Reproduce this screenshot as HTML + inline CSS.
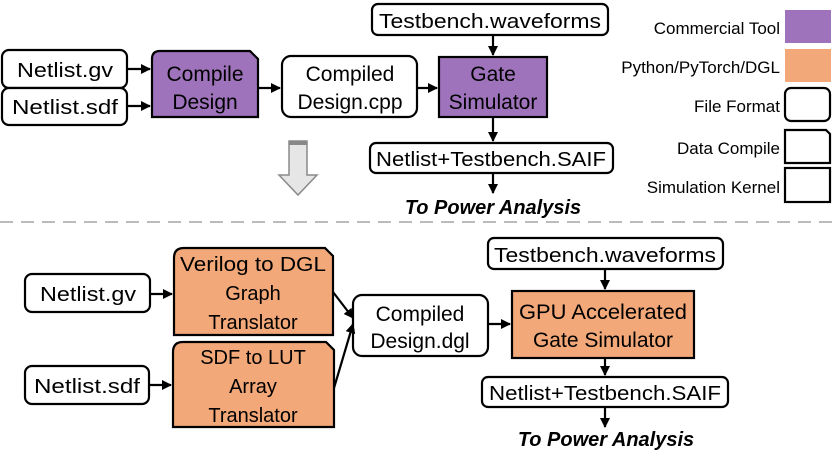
<!DOCTYPE html>
<html><head><style>
html,body{margin:0;padding:0;background:#fff;}
svg text{font-family:"Liberation Sans",sans-serif;fill:#000;}
</style></head><body>
<svg width="832" height="450" viewBox="0 0 832 450" xmlns="http://www.w3.org/2000/svg">
<defs>
<marker id="ah" markerWidth="10" markerHeight="10" refX="9" refY="5" orient="auto" markerUnits="userSpaceOnUse">
<path d="M0,0 L10,5 L0,10 Z" fill="#000"/>
</marker>
</defs>
<g stroke="#000" stroke-width="2.2" fill="none">
<rect x="2" y="50" width="125" height="38" rx="7" fill="#fff"/>
<rect x="2" y="88" width="125" height="37" rx="7" fill="#fff"/>
<path d="M160,51 L250,51 L258,59 L258,117 L152,117 L152,59 Q152,51 160,51 Z" fill="#9e73bb"/>
<rect x="282" y="56" width="135" height="61" rx="9" fill="#fff"/>
<rect x="439" y="57" width="108" height="60" fill="#9e73bb"/>
<rect x="372" y="4" width="236" height="31" rx="6" fill="#fff"/>
<rect x="370" y="143" width="243" height="30" rx="6" fill="#fff"/>
<line x1="127" y1="69" x2="150" y2="69" marker-end="url(#ah)"/>
<line x1="127" y1="106" x2="150" y2="106" marker-end="url(#ah)"/>
<line x1="258" y1="88" x2="280" y2="88" marker-end="url(#ah)"/>
<line x1="417" y1="88" x2="437" y2="88" marker-end="url(#ah)"/>
<line x1="493" y1="35" x2="493" y2="55" marker-end="url(#ah)"/>
<line x1="493" y1="117" x2="493" y2="141" marker-end="url(#ah)"/>
<line x1="493" y1="173" x2="493" y2="193" marker-end="url(#ah)"/>
<rect x="785" y="10" width="46" height="33" fill="#9e73bb" stroke="none"/>
<rect x="785" y="49" width="46" height="33" fill="#f2a878" stroke="none"/>
<rect x="785" y="88" width="45" height="33" rx="6" fill="#fff"/>
<path d="M785,130 L826,130 L830,134 L830,163 L785,163 Z" fill="#fff"/>
<rect x="785" y="168" width="45" height="34" fill="#fff"/>
<rect x="25" y="274" width="125" height="38" rx="7" fill="#fff"/>
<rect x="25" y="366" width="124" height="38" rx="7" fill="#fff"/>
<path d="M184,248 L325,248 L333,256 L333,335 L174,335 L174,258 Q174,248 184,248 Z" fill="#f2a878"/>
<path d="M183,342 L326,342 L334,350 L334,427 L173,427 L173,352 Q173,342 183,342 Z" fill="#f2a878"/>
<rect x="353" y="295" width="135" height="61" rx="9" fill="#fff"/>
<rect x="512" y="291" width="182" height="67" fill="#f2a878"/>
<rect x="488" y="238" width="235" height="31" rx="6" fill="#fff"/>
<rect x="482" y="377" width="246" height="30" rx="6" fill="#fff"/>
<line x1="150" y1="294" x2="172" y2="294" marker-end="url(#ah)"/>
<line x1="149" y1="385" x2="171" y2="385" marker-end="url(#ah)"/>
<line x1="333" y1="292" x2="353" y2="318" marker-end="url(#ah)"/>
<line x1="334" y1="388" x2="353" y2="324" marker-end="url(#ah)"/>
<line x1="488" y1="324" x2="510" y2="324" marker-end="url(#ah)"/>
<line x1="605" y1="269" x2="605" y2="289" marker-end="url(#ah)"/>
<line x1="605" y1="358" x2="605" y2="375" marker-end="url(#ah)"/>
<line x1="605" y1="407" x2="605" y2="427" marker-end="url(#ah)"/>
</g>
<path d="M289,141 L307,141 L307,175 L317,175 L298,195 L279,175 L289,175 Z" fill="#e6e6e6" stroke="#8a8a8a" stroke-width="1.5"/>
<rect x="289" y="141" width="18" height="4" fill="#888"/>
<line x1="0" y1="222" x2="832" y2="222" stroke="#bbb" stroke-width="2" stroke-dasharray="13,8"/>
<g font-size="20" text-anchor="middle">
<text x="65" y="77" textLength="96" lengthAdjust="spacingAndGlyphs">Netlist.gv</text>
<text x="65" y="114" textLength="106" lengthAdjust="spacingAndGlyphs">Netlist.sdf</text>
<text x="205" y="81" font-size="21">Compile</text>
<text x="205" y="109" font-size="21">Design</text>
<text x="350" y="81" font-size="21">Compiled</text>
<text x="350" y="109" font-size="21">Design.cpp</text>
<text x="493" y="81" font-size="21">Gate</text>
<text x="493" y="109" font-size="21">Simulator</text>
<text x="490" y="28" textLength="222" lengthAdjust="spacingAndGlyphs">Testbench.waveforms</text>
<text x="491" y="166" textLength="230" lengthAdjust="spacingAndGlyphs">Netlist+Testbench.SAIF</text>
<text x="493" y="214" font-weight="bold" font-style="italic">To Power Analysis</text>
<text x="88" y="301" textLength="96" lengthAdjust="spacingAndGlyphs">Netlist.gv</text>
<text x="87" y="393" textLength="106" lengthAdjust="spacingAndGlyphs">Netlist.sdf</text>
<text x="253" y="271" textLength="146" lengthAdjust="spacingAndGlyphs">Verilog to DGL</text>
<text x="253" y="300">Graph</text>
<text x="253" y="329">Translator</text>
<text x="253" y="364">SDF to LUT</text>
<text x="253" y="393">Array</text>
<text x="253" y="422">Translator</text>
<text x="420" y="321" font-size="21">Compiled</text>
<text x="420" y="348" font-size="21">Design.dgl</text>
<text x="603" y="319" font-size="21" textLength="168" lengthAdjust="spacingAndGlyphs">GPU Accelerated</text>
<text x="603" y="347" font-size="21">Gate Simulator</text>
<text x="605" y="262" textLength="222" lengthAdjust="spacingAndGlyphs">Testbench.waveforms</text>
<text x="605" y="400" textLength="232" lengthAdjust="spacingAndGlyphs">Netlist+Testbench.SAIF</text>
<text x="606" y="446" font-weight="bold" font-style="italic">To Power Analysis</text>
</g>
<g font-size="17" text-anchor="end">
<text x="780" y="34">Commercial Tool</text>
<text x="780" y="73">Python/PyTorch/DGL</text>
<text x="780" y="112">File Format</text>
<text x="780" y="154">Data Compile</text>
<text x="780" y="193">Simulation Kernel</text>
</g>
</svg>
</body></html>
